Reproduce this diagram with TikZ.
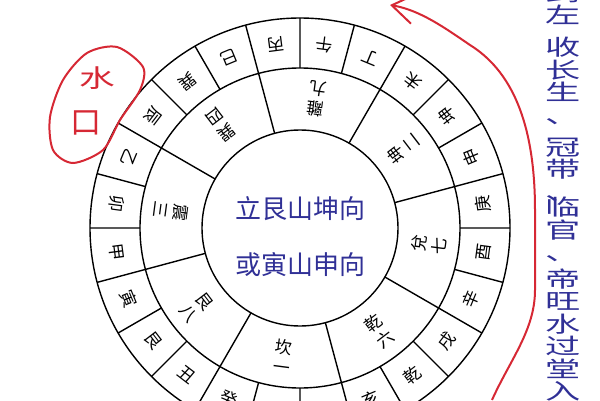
\documentclass[tikz,border=0pt]{standalone}
\usepackage{fontspec}
\newfontfamily\cjk{Noto Sans CJK SC}
\usetikzlibrary{arrows.meta}
\definecolor{penred}{RGB}{214,40,52}
\definecolor{inkblue}{RGB}{48,48,150}
\tikzset{
  mtn/.style={font=\cjk\fontsize{17}{17}\selectfont, inner sep=0pt},
  gua/.style={font=\cjk\fontsize{17}{20}\selectfont, align=center, inner sep=0pt},
  cen/.style={font=\cjk\fontsize{26}{26}\selectfont, text=inkblue, inner sep=0pt},
  side/.style={font=\cjk\fontsize{22}{22.5}\selectfont, text=inkblue, align=center, inner sep=0pt, xscale=1.6},
  hand/.style={font=\cjk\fontsize{31}{31}\selectfont, text=penred, inner sep=0pt},
}
\begin{document}
\begin{tikzpicture}[x=1pt, y=1pt, line width=1.4pt]
\useasboundingbox (0,0) rectangle (600,400);
\clip (0,0) rectangle (600,400);
\begin{scope}[shift={(300,172)}]
\draw (0,0) circle (210);
\draw (0,0) circle (160);
\draw (0,0) circle (98);
% outer ring dividers
\draw (0:160) -- (0:210) (15:160) -- (15:210) (30:160) -- (30:210) (45:160) -- (45:210);
\draw (60:160) -- (60:210) (75:160) -- (75:210) (90:160) -- (90:210) (105:160) -- (105:210);
\draw (120:160) -- (120:210) (135:160) -- (135:210) (150:160) -- (150:210) (165:160) -- (165:210);
\draw (180:160) -- (180:210) (195:160) -- (195:210) (210:160) -- (210:210) (225:160) -- (225:210);
\draw (240:160) -- (240:210) (255:160) -- (255:210) (270:160) -- (270:210) (285:160) -- (285:210);
\draw (300:160) -- (300:210) (315:160) -- (315:210) (330:160) -- (330:210) (345:160) -- (345:210);
% middle ring dividers
\draw (15:98) -- (15:160) (60:98) -- (60:160) (105:98) -- (105:160) (150:98) -- (150:160);
\draw (195:98) -- (195:160) (240:98) -- (240:160) (285:98) -- (285:160) (330:98) -- (330:160);
% outer ring
\node[mtn, rotate=172.5] (mtn0) at (82.5:185) {午};
\node[mtn, rotate=157.5] (mtn1) at (67.5:185) {丁};
\node[mtn, rotate=142.5] (mtn2) at (52.5:185) {未};
\node[mtn, rotate=127.5] (mtn3) at (37.5:185) {坤};
\node[mtn, rotate=112.5] (mtn4) at (22.5:185) {申};
\node[mtn, rotate=97.5] (mtn5) at (7.5:185) {庚};
\node[mtn, rotate=82.5] (mtn6) at (-7.5:185) {酉};
\node[mtn, rotate=67.5] (mtn7) at (-22.5:185) {辛};
\node[mtn, rotate=52.5] (mtn8) at (-37.5:185) {戌};
\node[mtn, rotate=37.5] (mtn9) at (-52.5:185) {乾};
\node[mtn, rotate=22.5] (mtn10) at (-67.5:185) {亥};
\node[mtn, rotate=7.5] (mtn11) at (-82.5:185) {壬};
\node[mtn, rotate=-7.5] (mtn12) at (-97.5:185) {子};
\node[mtn, rotate=-22.5] (mtn13) at (-112.5:185) {癸};
\node[mtn, rotate=-37.5] (mtn14) at (-127.5:185) {丑};
\node[mtn, rotate=-52.5] (mtn15) at (-142.5:185) {艮};
\node[mtn, rotate=-67.5] (mtn16) at (-157.5:185) {寅};
\node[mtn, rotate=-82.5] (mtn17) at (-172.5:185) {甲};
\node[mtn, rotate=262.5] (mtn18) at (172.5:185) {卯};
\node[mtn, rotate=247.5] (mtn19) at (157.5:185) {乙};
\node[mtn, rotate=232.5] (mtn20) at (142.5:185) {辰};
\node[mtn, rotate=217.5] (mtn21) at (127.5:185) {巽};
\node[mtn, rotate=202.5] (mtn22) at (112.5:185) {巳};
\node[mtn, rotate=187.5] (mtn23) at (97.5:185) {丙};
% middle ring
\node[gua, rotate=172.5] (gua0) at (82.5:130) {離\\九};
\node[gua, rotate=127.5] (gua1) at (37.5:130) {坤\\二};
\node[gua, rotate=82.5] (gua2) at (-7.5:130) {兌\\七};
\node[gua, rotate=37.5] (gua3) at (-52.5:130) {乾\\六};
\node[gua, rotate=-7.5] (gua4) at (-97.5:130) {坎\\一};
\node[gua, rotate=-52.5] (gua5) at (-142.5:130) {艮\\八};
\node[gua, rotate=262.5] (gua6) at (172.5:130) {震\\三};
\node[gua, rotate=217.5] (gua7) at (127.5:130) {巽\\四};
\end{scope}
% center
\node[cen] (cen0) at (300,191) {立艮山坤向};
\node[cen] (cen1) at (300,135) {或寅山申向};
% right column
\node[side] (txt0) at (563,396) {到\\左};
\node[side] (txt1) at (563,319.25) {收\\长\\生\\、};
\node[side] (txt2) at (563,230.5) {冠\\带\\、};
\node[side] (txt3) at (563,170.5) {临\\官\\、};
\node[side] (txt4) at (563,65) {帝\\旺\\水\\过\\堂\\入};
% red marks
\draw[penred, line width=2pt] plot[smooth cycle] coordinates {(117,353) (143,333) (140,310) (120,280) (103,250) (73,237) (53,250) (50,283) (63,320) (87,347)};
\node[hand, xscale=1.15, yscale=0.8] (shui) at (97,322) {水};
\node[hand] (kou) at (86,277) {口};
\coordinate (arrS) at (492,0);
\coordinate (arrE) at (390,395);
\draw[penred, line width=2pt, -{Straight Barb[length=22pt,width=30pt]}] (arrS) .. controls (510,40) and (535,70) .. (535,110) -- (535,190) .. controls (535,280) and (510,330) .. (470,355) .. controls (445,372) and (420,390) .. (arrE);
\end{tikzpicture}
\end{document}
